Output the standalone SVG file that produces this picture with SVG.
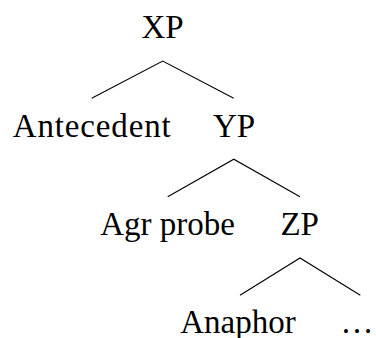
<svg xmlns="http://www.w3.org/2000/svg" width="376" height="338" viewBox="0 0 376 338">
<style>
text{font-family:"Liberation Serif","Times New Roman",serif;font-size:33px;fill:#000;text-anchor:middle}
.edge{stroke:#000;stroke-width:1.1;fill:none}
</style>
<rect width="376" height="338" fill="#fff"/>
<g id="connectors">
<polyline class="edge" points="91.7,98.3 162.7,61 233.7,98.3"/>
<polyline class="edge" points="167.7,196.8 233.8,159.2 300,196.8"/>
<polyline class="edge" points="240,295.3 300,258 360.3,295.3"/>
</g>
<g id="XP"><text x="162.5" y="38.3">XP</text></g>
<g id="Antecedent"><text x="91.7" y="136.7" textLength="158">Antecedent</text></g>
<g id="YP"><text x="234" y="136.7">YP</text></g>
<g id="AgrProbe"><text x="167.5" y="235">Agr probe</text></g>
<g id="ZP"><text x="299.7" y="235">ZP</text></g>
<g id="Anaphor"><text x="238" y="333.3">Anaphor</text></g>
<g id="Ellipsis"><text x="357" y="333.3">…</text></g>
</svg>
